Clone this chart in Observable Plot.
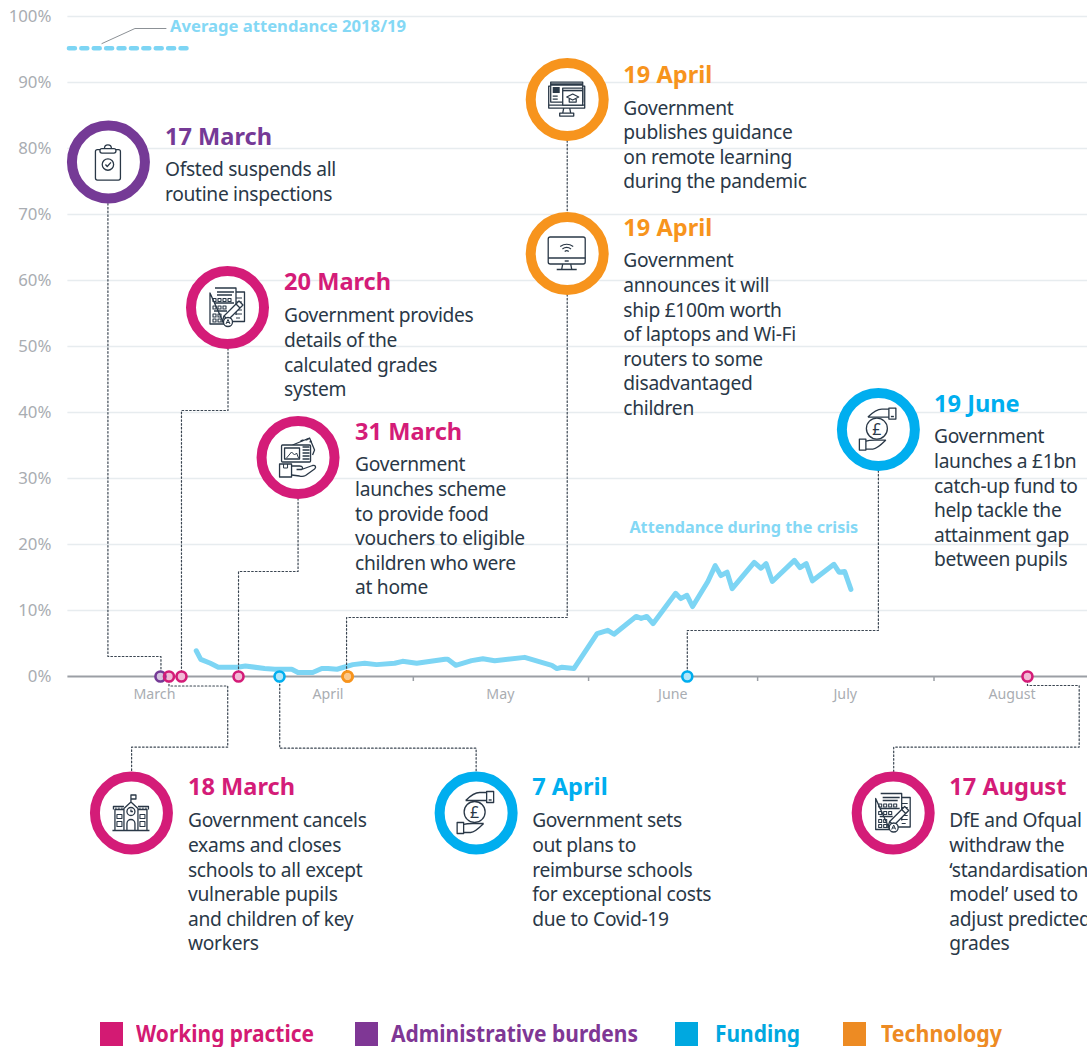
<!DOCTYPE html>
<html><head><meta charset="utf-8">
<script src="https://cdn.jsdelivr.net/npm/d3@7"></script>
<script src="https://cdn.jsdelivr.net/npm/@observablehq/plot@0.6"></script>
<style>
html,body{margin:0;padding:0;background:#fff;overflow:hidden}
#wrap{position:relative;width:1087px;height:1047px}
svg{display:block}
.sw{position:absolute;top:1022px;width:23px;height:24px}
.lg{position:absolute;top:1018px;font:700 23px "Noto Sans";line-height:30px;white-space:nowrap;transform-origin:0 50%}
.bodytext text{letter-spacing:-.3px}
</style></head><body><div id="wrap"></div>
<script>
// ---- data ----
const categories = ["Working practice","Administrative burdens","Funding","Technology"];
const gridValues = [10,20,30,40,50,60,70,80,90,100];
const yTicks = [0,10,20,30,40,50,60,70,80,90,100];
const monthNames = ["March","April","May","June","July","August"];
const monthLabelDay = [15.3,46,76.5,107,137.5,167];
const monthBoundaryDay = [61.1,92.1,122,153.2];
const attendanceDay = [22.7,23.5,25.2,26.6,30,31.4,34.8,36.6,39.6,40.7,43.3,44.9,46,47.6,50.4,52.5,54.6,57.8,59.2,61.7,66.7,67.2,68.6,71.4,73.4,75.5,80.8,82,85.6,86.5,87.4,89.5,93.6,95.5,96.6,100.5,101.4,102.4,103.5,107.5,108.4,109.5,110.5,113.2,114.5,115.5,116.6,117.5,121.4,122.6,123.5,124.6,128.5,129.5,130.6,131.7,135.5,136.4,137.4,138.5];
const attendancePct = [3.9,2.6,2.0,1.4,1.4,1.6,1.2,1.1,1.1,0.6,0.6,1.2,1.2,1.1,1.8,2.0,1.8,2.0,2.3,2.0,2.6,2.6,1.7,2.4,2.7,2.4,2.9,2.6,1.7,1.2,1.4,1.2,6.5,7.0,6.4,9.1,8.8,9.1,8.0,12.6,11.8,12.3,10.6,14.4,16.8,15.3,15.8,13.3,17.3,16.4,17.1,14.4,17.6,16.5,17.1,14.5,17.0,15.8,15.9,13.2];
const averagePct = 95.2;
const averageDaySpan = [0.18,21.6];

const eventTitle = ["17 March","20 March","31 March","19 April","19 April","19 June","18 March","7 April","17 August"];
const eventCategory = [1,0,0,3,3,2,0,2,0];
const eventDay = [16.37,20.09,30.18,49.47,49.47,109.56,17.88,37.43,169.73];
const eventBody = [
"Ofsted suspends all\nroutine inspections",
"Government provides\ndetails of the\ncalculated grades\nsystem",
"Government\nlaunches scheme\nto provide food\nvouchers to eligible\nchildren who were\nat home",
"Government\npublishes guidance\non remote learning\nduring the pandemic",
"Government\nannounces it will\nship £100m worth\nof laptops and Wi-Fi\nrouters to some\ndisadvantaged\nchildren",
"Government\nlaunches a £1bn\ncatch-up fund to\nhelp tackle the\nattainment gap\nbetween pupils",
"Government cancels\nexams and closes\nschools to all except\nvulnerable pupils\nand children of key\nworkers",
"Government sets\nout plans to\nreimburse schools\nfor exceptional costs\ndue to Covid-19",
"DfE and Ofqual\nwithdraw the\n‘standardisation\nmodel’ used to\nadjust predicted\ngrades"];

// ---- callout layout, in the chart's own units (days since 1 March, percent) ----
const ringDay = [7.17,28.23,40.71,88.32,88.32,143.36,11.24,72.21,145.98];
const ringPct = [77.95,55.91,33.18,87.42,64.09,37.42,-20.68,-20.68,-20.68];
const textDay = [17.17,38.23,50.8,98.25,98.25,153.2,21.24,82.12,155.9];
const titlePct = [81.82,59.85,37.12,91.21,68.03,41.36,-16.72,-16.72,-16.72];
const bodyPct = [76.84,54.7,32.12,86.2,63.03,36.36,-21.82,-21.82,-21.82];
const iconName = ["clipboard","sheet","voucher","grad","wifi","pound","school","pound","sheet"];
const leaders = [
 [[7.08,71.67],[7.08,3.03],[16.46,3.03],[16.46,0.6]],
 [[28.32,49.7],[28.32,40.3],[20.09,40.3],[20.09,0.6]],
 [[40.71,26.97],[40.71,15.91],[30.18,15.91],[30.18,0.6]],
 [[88.32,81.2],[88.32,70.3]],
 [[88.32,57.88],[88.32,8.94],[49.29,8.94],[49.29,0.6]],
 [[143.36,31.2],[143.36,6.97],[109.56,6.97],[109.56,0.6]],
 [[17.88,-0.6],[17.88,-1.44],[28.27,-1.44],[28.27,-10.7],[11.27,-10.7],[11.27,-14.4]],
 [[37.47,-0.6],[37.47,-10.86],[72.21,-10.86],[72.21,-14.4]],
 [[169.73,-0.6],[169.73,-1.36],[178.88,-1.36],[178.88,-10.7],[146.07,-10.7],[146.07,-14.4]]
];
const averageLeader = [[6.02,95.9],[11.86,98.18],[17.35,98.18]];

// ---- styles ----
const ringColors = ["#d41c78","#753a96","#00aeef","#f7941d"];
const legendColors = ["#d31a73","#7f3795","#00a8e0","#ed8b23"];
const legendX = [99.5,354.5,675,843];
const legendTextX = [136,391,715,881];
const legendTextW = [178,247,85,121];
const ink = "#2a3847", lightBlue = "#7dd5f4", axisGrey = "#a9adb2";
const font = "Noto Sans";

const day = d => new Date(Date.UTC(2020,2,1) + d*864e5);
const events = eventTitle.map((title,i)=>({title, body:eventBody[i], cat:categories[eventCategory[i]],
  d:day(eventDay[i]), rd:day(ringDay[i]), rp:ringPct[i], td:day(textDay[i]), tp:titlePct[i], bp:bodyPct[i], icon:iconName[i]}));
const attendance = attendanceDay.map((d,i)=>({date:day(d),pct:attendancePct[i]}));
const leaderPoints = leaders.flatMap((l,k)=>l.map(([d,p])=>({k,date:day(d),pct:p})));

const icons = {
clipboard:`<rect x="-12.5" y="-12" width="25" height="30.5" rx="2"/><rect x="-8" y="-13" width="16" height="4.5" rx="2" fill="#fff"/><path d="M-3.5 -13 C-3.5 -18 3.5 -18 3.5 -13"/><circle cx="0" cy="3" r="5.7"/><path d="M-2.5 3 L-0.7 5 L3 0.8"/>`,
school:`<path d="M-18.5 18 H18.5 M-16 18 V-3 H-7 M16 18 V-3 H7 M-7 18 V-4 L0 -10.5 L7 -4 V18 M-17.5 -3 V-6 H-7 M17.5 -3 V-6 H7 M0 -10.5 V-17.5 H5 V-13.5 H0"/><circle cx="0" cy="-1" r="4"/><path d="M0 -3 V-1 H2"/><path d="M-4 18 V11 A4 4 0 0 1 4 11 V18"/><path d="M-14 2 h5 v4 h-5z M-14 9 h5 v5 h-5z M9 2 h5 v4 h-5z M9 9 h5 v5 h-5z" stroke-width="1.1"/><path d="M-15 -5 v2 M-12 -5 v2 M-9 -5 v2 M15 -5 v2 M12 -5 v2 M9 -5 v2" stroke-width="1"/>`,
sheet:`<path d="M8 -15 H17.5 V14.5 H2"/><path d="M9 -9 H15 M9 -5 H15 M9 -1 H15 M9 3 H15 M9 7 H15 M9 11 H13" stroke-width="1.1"/><path d="M-12 -19 H9 V8 M-3 17 H-17 V-14 Z" fill="#fff"/><path d="M-10 -15 H7 M-10 -12 H5 M-13 -4 H7 M-13 4 H0" stroke-width="1.6"/><path d="M-14 -8.5 h3v3h-3z M-9 -8.5 h3v3h-3z M-4 -8.5 h3v3h-3z M1 -8.5 h3v3h-3z M-14 -1 h3v3h-3z M-9 -1 h3v3h-3z M-4 -1 h3v3h-3z M-14 7 h3v3h-3z M-9 7 h3v3h-3z M-14 12 h3v3h-3z M-9 12 h3v3h-3z" stroke-width="1.1"/><path d="M-3 9 L12 -6 L16 -2 L1 13 Z" fill="#fff"/><path d="M-3 9 L-5 15 L1 13 M9 -3 L13 1"/><circle cx="1" cy="15" r="4.5" fill="#fff"/><path d="M-1 17 L1 12.5 L3 17 M-0.3 15.5 H2.3" stroke-width="1"/>`,
voucher:`<path d="M-5 -12 L12 -19 L17 -7 L15 -2" /><path d="M3 -16 l3 -1 M8 -17 l3 -1 M12 -15 l2 -1" stroke-width="1.4"/><rect x="-16" y="-12" width="29" height="17" rx="1" fill="#fff"/><rect x="-13" y="-9" width="15" height="11"/><path d="M-11 1 L-6 -5 L-3 -2 L-1 -4 L1 1" stroke-width="1"/><path d="M5 -10 h7 M5 -7 h7 M5 -4 h7 M5 -1 h7 M5 2 h7" stroke-width="1.6"/><rect x="-18" y="7" width="12" height="13"/><path d="M-14 7 v4 h4 v-4" stroke-width="1"/><path d="M-6 9 H2 C5 9 6 11 4 12.5 H-1 M4 12.5 L15 8.5 C18 8 19 10 17 12 L8 18.5 C6 19.5 4 19.5 2 19 L-6 18"/>`,
pound:`<circle cx="-1" cy="-0.5" r="10.5"/><text x="-1" y="5.5" text-anchor="middle" font-size="16" font-family="Noto Sans" fill="${ink}" stroke="none">£</text><path d="M-10 -12 C-6 -16 -1 -20 4 -20 H11 M-10 -12 H2 C5 -12 8 -12 11 -12"/><rect x="11" y="-21" width="7" height="11"/><path d="M13 -12.5 h3" stroke-width="1.4"/><path d="M8 11 C4 15 -1 20 -5 20 H-12 M8 11 H-3 C-6 11 -9 11 -12 12"/><rect x="-18.5" y="10" width="6.5" height="11"/>`,
wifi:`<rect x="-18.5" y="-16" width="37" height="27" rx="2"/><path d="M-18.5 5 H18.5"/><path d="M-2 8 H2" stroke-width="1.4"/><path d="M-4 11 L-5 16 M4 11 L5 16 M-10 16.5 H10" /><path d="M-6.5 -6.5 Q0 -11 6.5 -6.5 M-4.3 -4 Q0 -7.2 4.3 -4 M-2 -1.5 Q0 -3.2 2 -1.5" stroke-width="1.2"/>`,
grad:`<path d="M-16 -13 H-18 V9 H18 V-13 H16 M-18 6 H18"/><rect x="-16" y="-17" width="32" height="20" fill="#fff"/><path d="M-16 -14.5 H16" stroke-width="2.5"/><rect x="-14" y="-12" width="7" height="6" fill="${ink}" stroke="none"/><path d="M-14 -3 H-9 M-14 0 H-9" stroke-width="1.2"/><rect x="-4" y="-11" width="20" height="17" fill="#fff"/><path d="M-4 -8.5 H16" stroke-width="1.6"/><path d="M0 -2 L6 -5 L12 -2 L6 1 Z M2.5 -1 V3 H9.5 V-1" stroke-width="1.2"/><path d="M-3 9 L-4 14 M3 9 L4 14 M-7 14 H7 V17 H-7 Z"/>`
};
const iconMark = (index,{x,y}) => {
  const g = document.createElementNS("http://www.w3.org/2000/svg","g");
  g.setAttribute("fill","none"); g.setAttribute("stroke",ink); g.setAttribute("stroke-width","1.3"); g.setAttribute("stroke-linejoin","round");
  g.innerHTML = events.map(e=>`<g transform="translate(${x(e.rd)},${y(e.rp)})">${icons[e.icon]}</g>`).join("");
  return g;
};

const chart = Plot.plot({
  width:1087, height:1010, marginLeft:67.4, marginRight:0, marginTop:16, marginBottom:334,
  style:{background:"#fff",fontFamily:font},
  x:{type:"utc",domain:[day(0),day(180.35)]},
  y:{domain:[0,100]},
  color:{domain:categories,range:ringColors},
  marks:[
    Plot.ruleY(gridValues,{stroke:"#e7ecef",strokeWidth:1.6}),
    Plot.axisY({ticks:yTicks,tickSize:0,tickPadding:16.5,tickFormat:d=>d+"%",fontSize:16.8,fill:axisGrey,label:null,fontFamily:font}),
    Plot.ruleY([0],{stroke:"#9b9fa5",strokeWidth:2}),
    Plot.axisX({ticks:monthBoundaryDay.map(day),tickSize:5,tickFormat:()=>"",stroke:"#9b9fa5",strokeWidth:1.5,label:null}),
    Plot.axisX({ticks:monthLabelDay.map(day),tickSize:0,tickPadding:12,tickFormat:(d,i)=>monthNames[i],fontSize:14.2,fill:axisGrey,label:null,fontFamily:font}),
    // attendance
    Plot.line(averageDaySpan,{x:d=>day(d),y:()=>averagePct,stroke:lightBlue,strokeWidth:4.5,strokeDasharray:"6 6.4",strokeLinecap:"round"}),
    Plot.line(averageLeader,{x:d=>day(d[0]),y:d=>d[1],stroke:"#8c9196",strokeWidth:1}),
    Plot.text(["Average attendance 2018/19"],{x:()=>day(18.05),y:()=>98.48,text:d=>d,textAnchor:"start",fill:"#84d8f5",fontSize:16.65,fontWeight:700,fontFamily:font}),
    Plot.line(attendance,{x:"date",y:"pct",stroke:lightBlue,strokeWidth:5,strokeLinecap:"round",strokeLinejoin:"round"}),
    Plot.text(["Attendance during the crisis"],{x:()=>day(139.8),y:()=>22.58,text:d=>d,textAnchor:"end",fill:"#84d8f5",fontSize:16.2,fontWeight:700,fontFamily:font}),
    // leaders
    Plot.line(leaderPoints,{x:"date",y:"pct",z:"k",stroke:"#3b4652",strokeWidth:1.2,strokeDasharray:"1.6 2.2",curve:"linear"}),
    // timeline markers
    Plot.dot(events,{x:"d",y:()=>0,r:5,fill:"#fff",stroke:"none"}),
    Plot.dot(events,{x:"d",y:()=>0,r:5,fill:"cat",fillOpacity:0.3,stroke:"cat",strokeWidth:2.6}),
    // callouts
    Plot.dot(events,{x:"rd",y:"rp",r:36.5,fill:"#fff",stroke:"cat",strokeWidth:10}),
    iconMark,
    Plot.text(events,{x:"td",y:"tp",text:"title",textAnchor:"start",fill:"cat",fontSize:23.6,fontWeight:700,fontFamily:font,dy:1}),
    Plot.text(events,{x:"td",y:"bp",text:"body",textAnchor:"start",lineAnchor:"top",lineHeight:1.28,fill:ink,fontSize:19.2,fontFamily:font,dy:-10.5,className:"bodytext"})
  ]
});
const wrap = document.getElementById("wrap");
wrap.appendChild(chart);
categories.forEach((c,i)=>{
  const s=document.createElement("div"); s.className="sw"; s.style.left=legendX[i]+"px"; s.style.background=legendColors[i]; wrap.appendChild(s);
  const t=document.createElement("div"); t.className="lg"; t.style.left=legendTextX[i]+"px"; t.style.color=legendColors[i]; t.textContent=c; wrap.appendChild(t);
  const w=t.getBoundingClientRect().width; t.style.transform=`scaleX(${legendTextW[i]/w})`;
});
</script></body></html>
